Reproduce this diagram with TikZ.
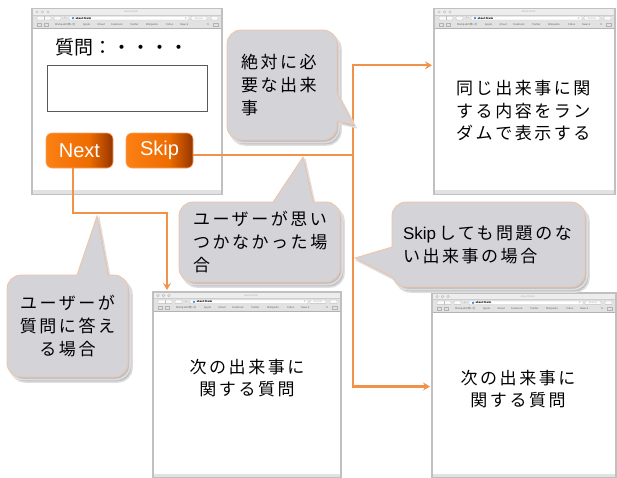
\documentclass[tikz,border=0pt]{standalone}
\usepackage{fontspec}
\setmainfont{Noto Sans CJK JP}
\newfontfamily\jpfont[LetterSpace=15]{Noto Sans CJK JP}
\newfontfamily\jpplain{Noto Sans CJK JP}
\newfontfamily\btnfont{Liberation Sans}
\newfontfamily\symfont{DejaVu Sans}
\usetikzlibrary{arrows.meta,calc,shadows}

\definecolor{conncol}{RGB}{241,146,74}
\definecolor{calfill}{RGB}{211,211,216}
\definecolor{calline}{RGB}{240,196,165}
\definecolor{shadowcol}{RGB}{192,192,195}
\definecolor{shadowsoft}{RGB}{222,222,224}
\definecolor{winline}{RGB}{192,192,192}
\definecolor{chromea}{RGB}{237,237,237}
\definecolor{chromeb}{RGB}{226,226,226}
\definecolor{btnA}{RGB}{252,128,20}
\definecolor{btnB}{RGB}{238,108,0}
\definecolor{btnC}{RGB}{150,54,0}
\definecolor{btnline}{RGB}{246,165,105}
\definecolor{globe}{RGB}{60,130,220}

\pgfdeclarehorizontalshading{btnshade}{100bp}{color(0bp)=(btnA); color(25bp)=(btnA); color(57bp)=(btnB); color(75bp)=(btnC); color(100bp)=(btnC)}

\tikzset{
  win/.style={draw=winline, line width=1.2pt, fill=white, inner sep=0pt, outer sep=0pt, anchor=north west},
  chrometext/.style={font=\jpplain\fontsize{2.5}{3}\selectfont, text=gray!75!black, inner sep=0pt},
  chromebox/.style={draw=gray!50, fill=white!96!gray, line width=0.3pt, rounded corners=0.8pt},
  btn/.style={rounded corners=6pt, shading=btnshade, draw=btnline, line width=0.6pt,
    minimum width=67pt, minimum height=35pt, inner sep=0pt, text=white,
    font=\btnfont\fontsize{20}{24}\selectfont},
  conn/.style={draw=conncol, line width=2.2pt},
  arr/.style={-{Stealth[length=7pt,width=8pt,inset=2.5pt]}},
  callout/.style={rounded corners=14pt, fill=calfill, draw=calline, line width=0.8pt,
    inner ysep=0pt, font=\jpfont\fontsize{17}{23}\selectfont,
    double copy shadow={shadow xshift=2pt, shadow yshift=-2.5pt, fill=shadowcol, draw=shadowsoft, line width=1.5pt, opacity=1, shadow scale=1}},
  bodytext/.style={font=\jpfont\fontsize{17}{22.5}\selectfont, inner sep=0pt}
}

\newcommand\browserbar[1]{%
  \fill[chromea] (#1.north west) rectangle ($(#1.north east)+(0,6.5)$);
  \fill[chromeb] ($(#1.north west)+(0,6.5)$) rectangle ($(#1.north east)+(0,19.5)$);
  \draw[gray!40,line width=0.3pt] ($(#1.north west)+(0,6.5)$) -- ($(#1.north east)+(0,6.5)$);
  \draw[gray!60,line width=0.4pt] ($(#1.north west)+(0,19.5)$) -- ($(#1.north east)+(0,19.5)$);
  \foreach \dx in {5,10.5,16}{\draw[gray!55,fill=gray!20,line width=0.3pt] ($(#1.north west)+(\dx,3.5)$) circle (1.3pt);}
  \node[chrometext, text=gray!60] (#1title) at ($(#1.north)+(4,3.5)$) {about:blank};
  % toolbar
  \draw[chromebox] ($(#1.north west)+(5,8)$) rectangle ($(#1.north west)+(19,11.6)$);
  \draw[gray!50,line width=0.3pt] ($(#1.north west)+(12,8)$) -- ($(#1.north west)+(12,11.6)$);
  \draw[chromebox] ($(#1.north west)+(22,8)$) rectangle ($(#1.north west)+(29,11.6)$);
  \node[chrometext] (#1plus) at ($(#1.north west)+(33,9.8)$) {+};
  \draw[chromebox, fill=white] ($(#1.north west)+(37,7.9)$) rectangle ($(#1.north east)+(-33,11.7)$);
  \fill[globe] ($(#1.north west)+(41,9.8)$) circle (1.3pt);
  \node[chrometext, anchor=west, text=black] (#1addr) at ($(#1.north west)+(43.5,9.8)$) {\textbf{about:blank}};
  \node[chrometext] (#1reload) at ($(#1.north east)+(-36,9.8)$) {C};
  \draw[chromebox] ($(#1.north east)+(-31,8)$) rectangle ($(#1.north east)+(-15,11.6)$);
  \node[chrometext, text=gray!50] (#1reader) at ($(#1.north east)+(-23,9.8)$) {Reader};
  \draw[chromebox] ($(#1.north east)+(-11,8)$) rectangle ($(#1.north east)+(-4,11.6)$);
  % bookmarks
  \draw[gray!60,line width=0.3pt] ($(#1.north west)+(5,14.6)$) rectangle ($(#1.north west)+(9.5,17.4)$);
  \draw[gray!60,line width=0.3pt] ($(#1.north west)+(12,14.6)$) rectangle ($(#1.north west)+(16.5,17.4)$);
  \foreach \dx/\bm [count=\k] in {23/Markpadの使い方,51/Apple,65/iCloud,79/Facebook,98/Twitter,114/Wikipedia,134/Yahoo,148/News {\symfont ▾}}{%
    \node[chrometext, anchor=west] (#1bm\k) at ($(#1.north west)+(\dx,16)$) {\bm};}
  \node[chrometext] (#1more) at ($(#1.north east)+(-14,16)$) {≫};
  \draw[gray!60,line width=0.3pt] ($(#1.north east)+(-9,14.6)$) rectangle ($(#1.north east)+(-4,17.4)$);
  % bottom bar
  \fill[chromeb] ($(#1.south west)+(0,-4)$) rectangle (#1.south east);
  \draw[winline, line width=1.2pt] (#1.north west) rectangle (#1.south east);
}

\newcommand\pointershadow[3]{%
  \fill[shadowcol, draw=shadowsoft, line width=1.5pt] ($(#1)+(2,2.5)$) -- ($(#3)+(2,2.5)$) -- ($(#2)+(2,2.5)$) -- cycle;}
\newcommand\pointerbody[3]{%
  \fill[calfill] ($(#1)!-2.5pt!(#3)$) -- (#3) -- ($(#2)!-2.5pt!(#3)$) -- cycle;
  \draw[calline, line width=0.8pt, line join=miter] (#1) -- (#3) -- (#2);}

\begin{document}
\begin{tikzpicture}[x=1pt,y=-1pt]
\useasboundingbox[fill=white] (0,0) rectangle (617,477);

% browser windows
\node[win, minimum width=190pt, minimum height=186pt] (w1) at (32,8.3) {};
\browserbar{w1}
\node[win, minimum width=181pt, minimum height=186pt] (w2) at (434,8.3) {};
\browserbar{w2}
\node[win, minimum width=188pt, minimum height=186pt] (w3) at (153,292) {};
\browserbar{w3}
\node[win, minimum width=184pt, minimum height=185pt] (w4) at (432,293) {};
\browserbar{w4}

% window 1 content
\node[anchor=west, inner sep=0pt, font=\jpplain\fontsize{19}{23}\selectfont] (q) at (55,47) {質問：・・・・};
\node[draw=gray!70!black, line width=1.2pt, fill=white, minimum width=160pt, minimum height=46pt, anchor=north west, inner sep=0pt] (inp) at (47,65) {};
\node[btn] (next) at (79.5,150.5) {Next};
\node[btn] (skip) at (159.5,150.5) {Skip};

% window texts
\node[bodytext, anchor=west, align=left] (t2) at (456,111) {同じ出来事に関\\する内容をラン\\ダムで表示する};
\node[bodytext, align=center] (t3) at (247,378) {次の出来事に\\関する質問};
\node[bodytext, align=center] (t4) at (518,389) {次の出来事に\\関する質問};

% connectors
\coordinate (nb) at (167,213);
\draw[conn, arr] ([xshift=-6.5pt]next.south) |- (nb) -- ($(nb |- w3.north)+(0,-2)$);
\coordinate (sj) at (353,155);
\draw[conn] (sj -| skip.east) -- (sj);
\draw[conn, arr] (sj) |- ($(w2.west)+(-2,-36)$);
\draw[conn, arr] (sj) |- ($(w4.west)+(-2,1)$);

% callout 1
\coordinate (c1a) at (337,93); \coordinate (c1b) at (337,121); \coordinate (c1t) at (354,125);
\pointershadow{c1a}{c1b}{c1t}
\node[callout, minimum width=110pt, minimum height=110pt, text width=82pt, inner xsep=14pt, align=left] (c1) at (282,85) {絶対に必\\要な出来\\事};
\pointerbody{c1a}{c1b}{c1t}

% callout 2
\coordinate (c2a) at (273,202); \coordinate (c2b) at (313,202); \coordinate (c2t) at (303,157);
\pointershadow{c2a}{c2b}{c2t}
\node[callout, minimum width=161pt, minimum height=80pt, text width=133pt, inner xsep=14pt, align=left] (c2) at (259.5,242) {ユーザーが思い\\つかなかった場\\合};
\pointerbody{c2a}{c2b}{c2t}

% callout 3
\coordinate (c3a) at (392,247); \coordinate (c3b) at (392,277); \coordinate (c3t) at (355,258);
\pointershadow{c3a}{c3b}{c3t}
\node[callout, minimum width=193pt, minimum height=85pt, text width=171pt, inner xsep=11pt, align=left] (c3) at (488.5,244.5) {{\btnfont\fontsize{17}{23}\selectfont Skip}\,しても問題のな\\い出来事の場合};
\pointerbody{c3a}{c3b}{c3t}

% callout 4
\coordinate (c4a) at (77,275); \coordinate (c4b) at (108,275); \coordinate (c4t) at (97,216);
\pointershadow{c4a}{c4b}{c4t}
\node[callout, minimum width=121pt, minimum height=102pt, text width=105pt, inner xsep=8pt, align=center] (c4) at (67.5,326) {ユーザーが\\質問に答え\\る場合};
\pointerbody{c4a}{c4b}{c4t}

\end{tikzpicture}
\end{document}
